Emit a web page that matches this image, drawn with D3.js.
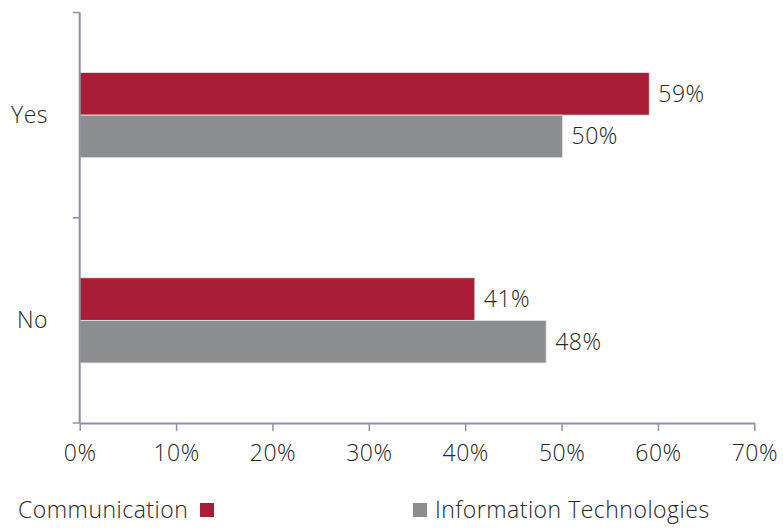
<!DOCTYPE html>
<html><head><meta charset="utf-8">
<script src="https://cdn.jsdelivr.net/npm/d3@7"></script>
<style>body{margin:0;background:#fff;} svg{display:block;} text{font-weight:300;letter-spacing:0.5px;}</style>
</head><body>
<svg id="c" width="783" height="529"></svg>
<script>
const categories = ["Yes", "No"];
const seriesNames = ["Communication", "Information Technologies"];
const communication = [59.1, 41.0];
const infoTech = [50.1, 48.4];
const xTicks = [0, 10, 20, 30, 40, 50, 60, 70];

const colors = ["#a81e36", "#8c8d8f"];
const axisColor = "#8e90ab";
const textColor = "#262626";
const font = "'Open Sans', sans-serif";
const fs = 23;

const svg = d3.select("#c");
const x = d3.scaleLinear().domain([0, 70]).range([79.7, 754.3]);
const y0 = d3.scaleBand().domain(categories).range([12.5, 423]).padding(0);
const y1 = d3.scaleBand().domain(seriesNames).range([0, y0.bandwidth()]).paddingInner(0).paddingOuter(1.41);

const data = categories.map((c, i) => ({cat: c, vals: [communication[i], infoTech[i]]}));

const g = svg.append("g");
data.forEach(d => {
  d.vals.forEach((v, j) => {
    const yy = y0(d.cat) + y1(seriesNames[j]);
    g.append("rect")
      .attr("x", x(0)).attr("y", yy)
      .attr("width", x(v) - x(0)).attr("height", y1.bandwidth())
      .attr("fill", colors[j])
      .attr("stroke", "#e6e6e6").attr("stroke-width", 0.8);
    g.append("text")
      .attr("x", x(v) + 9).attr("y", yy + y1.bandwidth() / 2)
      .attr("dy", "0.35em")
      .attr("font-family", font).attr("font-size", fs)
      .attr("fill", textColor)
      .text(Math.round(v) + "%");
  });
});

// y axis
const yAxisG = svg.append("g");
yAxisG.append("line").attr("x1", x(0)).attr("x2", x(0)).attr("y1", 12.5).attr("y2", 423)
  .attr("stroke", axisColor).attr("stroke-width", 2);
[12.5, y0("No"), 423].forEach(t => {
  yAxisG.append("line").attr("x1", x(0) - 7).attr("x2", x(0)).attr("y1", t).attr("y2", t)
    .attr("stroke", axisColor).attr("stroke-width", 1.5);
});
categories.forEach(c => {
  yAxisG.append("text").attr("x", 48).attr("y", y0(c) + y0.bandwidth() / 2)
    .attr("dy", "0.35em").attr("text-anchor", "end")
    .attr("font-family", font).attr("font-size", fs).attr("fill", textColor).text(c);
});

// x axis
const xAxis = d3.axisBottom(x).tickValues(xTicks).tickFormat(d => d + "%").tickSize(8).tickSizeOuter(0);
const xg = svg.append("g").attr("transform", "translate(0,423)").call(xAxis);
xg.select(".domain").attr("stroke", axisColor).attr("stroke-width", 2);
xg.selectAll(".tick line").attr("stroke", axisColor).attr("stroke-width", 1.5);
xg.selectAll(".tick text").attr("font-family", font).attr("font-size", fs)
  .attr("fill", textColor).attr("dy", null).attr("y", 38);

// legend
const leg = svg.append("g");
leg.append("text").attr("x", 18).attr("y", 518).attr("font-family", font).attr("font-size", fs)
  .attr("fill", textColor).text(seriesNames[0]);
leg.append("rect").attr("x", 200).attr("y", 503).attr("width", 14).attr("height", 14).attr("fill", colors[0]);
leg.append("rect").attr("x", 413).attr("y", 503).attr("width", 14).attr("height", 14).attr("fill", colors[1]);
leg.append("text").attr("x", 435).attr("y", 518).attr("font-family", font).attr("font-size", fs)
  .attr("fill", textColor).text(seriesNames[1]);
</script>
</body></html>
